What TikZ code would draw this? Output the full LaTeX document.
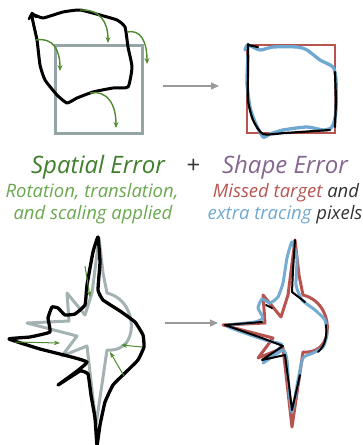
\documentclass[tikz,border=0pt]{standalone}
\usepackage{fontspec}
\setmainfont{Open Sans}
\usetikzlibrary{arrows.meta}
\definecolor{sqgrey}{HTML}{95A5A6}
\definecolor{arrgrey}{HTML}{999999}
\definecolor{dgreen}{HTML}{3F7F2A}
\definecolor{lgreen}{HTML}{6AA84F}
\definecolor{agreen}{HTML}{4E8A2E}
\definecolor{mauve}{HTML}{84668F}
\definecolor{tred}{HTML}{B85450}
\definecolor{tblue}{HTML}{6FA8D0}
\definecolor{txtdark}{HTML}{333333}
\tikzset{
  sketch/.style={black, line width=3pt, line join=round, line cap=round},
  garrow/.style={agreen, line width=1.4pt, -{Stealth[length=6pt,width=5pt]}},
  gthin/.style={agreen, line width=1pt, -{Stealth[length=6pt,width=4.5pt]}},
  stepar/.style={arrgrey, line width=1.2pt, -{Triangle[length=8pt,width=7pt]}},
  target/.style={line width=3pt, line join=round},
  bluetrace/.style={tblue, line width=3.3pt, line cap=round, line join=round},
}
\begin{document}
\begin{tikzpicture}[x=1pt,y=-1pt]
\useasboundingbox (0,0) rectangle (363,445);

% ---------- top left ----------
\draw[sqgrey, line width=3pt] (55,45) rectangle (142,133);
\draw[sketch] plot[smooth cycle, tension=0.3] coordinates {(32,15) (43,18) (63,12) (80,10) (100,15) (117,20) (125,27) (128,47) (132,67) (128,87) (113,88) (93,92) (77,98) (67,103) (57,95) (45,80) (40,65) (37,40)};
\draw[sketch, line width=2.5pt] (29,19) -- (32,13) -- (36,17);
\draw[garrow] (80,10) .. controls (100,9) and (108,22) .. (108,43);
\draw[garrow] (127,32) .. controls (141,29) and (147,42) .. (147,64);
\draw[garrow] (36,40) .. controls (53,37) and (60,50) .. (60,71);
\draw[garrow] (90,93) .. controls (108,90) and (116,105) .. (116,128);

% arrow top
\coordinate (a1s) at (163,86);
\coordinate (a1e) at (219,86);
\draw[stepar] (a1s) -- (a1e);

% ---------- top right ----------
\draw[tred, line width=2.7pt] (247,45) rectangle (335,133);
\draw[bluetrace] plot[smooth, tension=0.4] coordinates {(245,50) (248,45) (260,50) (273,47) (297,47) (307,50) (320,60) (333,67) (336,80) (336,110) (334,122) (331,128) (323,130) (307,127) (283,130) (270,134) (263,137) (255,122) (250,107) (247,83) (248,55)};
\draw[sketch, line width=2.2pt] plot[smooth, tension=0.4] coordinates {(248,44) (248,70) (248,100) (253,120) (263,134) (285,133) (300,132) (330,130)};
\draw[sketch, line width=2.2pt] (248,45) -- (258,47);
\draw[sketch, line width=2.2pt] (335,72) -- (336,100) -- (335,127);

% ---------- texts ----------
\node[anchor=base, font=\fontsize{24}{28}\selectfont\itshape, text=dgreen, inner sep=0] (t1) at (98,173) {Spatial Error};
\node[anchor=base, font=\fontsize{24}{28}\selectfont\itshape, text=txtdark, inner sep=0] (tp) at (193,173) {+};
\node[anchor=base, font=\fontsize{24}{28}\selectfont\itshape, text=mauve, inner sep=0] (t2) at (285,173) {Shape Error};
\node[anchor=base, font=\fontsize{18.5}{22}\selectfont\itshape, text=lgreen, inner sep=0] (s1) at (92,197) {Rotation, translation,};
\node[anchor=base, font=\fontsize{18.5}{22}\selectfont\itshape, text=lgreen, inner sep=0] (s2) at (93,219) {and scaling applied};
\node[anchor=base, font=\fontsize{18.5}{22}\selectfont\itshape, inner sep=0] (s3) at (286,197) {\textcolor{tred}{Missed target} \textcolor{txtdark}{and}};
\node[anchor=base, font=\fontsize{18.5}{22}\selectfont\itshape, inner sep=0] (s4) at (285,219) {\textcolor{tblue}{extra tracing} \textcolor{txtdark}{pixels}};

% ---------- bottom left ----------
\begin{scope}[shift={(97,333)}]
\draw[sqgrey!85, target] (2,-95) -- (6,-60) -- (10,-40) .. controls (30,-35) and (36,-15) .. (34,-2) .. controls (32,12) and (22,18) .. (10,17) -- (-1,92) -- (-10,13) -- (-35,23) -- (-20,3) -- (-70,-10) -- (-28,-12) -- (-30,-40) -- (-12,-18) -- (-5,-40) -- cycle;
\end{scope}
\draw[sketch, line width=3.3pt] plot[smooth cycle, tension=0.2] coordinates {(98,237) (100,262) (98,290) (103,300) (120,311) (135,322) (143,335) (144,347) (138,360) (125,373) (113,385) (105,402) (100,425) (97,445) (95,418) (91,395) (88,374) (80,371) (58,385) (87,362) (40,349) (9,339) (30,337) (50,332) (48,318) (52,307) (58,308) (65,315) (75,314) (85,305) (87,285) (93,252)};
\draw[gthin] (15,342) -- (60,343);
\draw[gthin] (85,266) -- (90,297);
\draw[gthin] (142,347) -- (121,345);
\draw[gthin] (124,376) -- (110,352);

% arrow bottom
\coordinate (a2s) at (165,323);
\coordinate (a2e) at (218,323);
\draw[stepar] (a2s) -- (a2e);

% ---------- bottom right ----------
\begin{scope}[shift={(293,335)}]
\draw[tred, target] (2,-95) -- (6,-60) -- (10,-40) .. controls (30,-35) and (36,-15) .. (34,-2) .. controls (32,12) and (22,18) .. (10,17) -- (-1,92) -- (-10,13) -- (-35,23) -- (-20,3) -- (-70,-10) -- (-28,-12) -- (-30,-40) -- (-12,-18) -- (-5,-40) -- cycle;
\end{scope}
\draw[bluetrace, line width=3pt, opacity=0.95] plot[smooth cycle, tension=0.3] coordinates {(292,242) (297,258) (296,285) (302,300) (315,310) (325,320) (327,335) (323,347) (313,353) (303,358) (298,380) (292,412) (289,390) (287,360) (283,350) (263,363) (282,345) (265,340) (227,326) (255,322) (263,318) (258,308) (262,299) (270,303) (278,297) (283,283) (287,258)};
\draw[sketch, line width=2pt] (295,240) -- (293,270) -- (292,292) -- (305,302);
\draw[sketch, line width=2pt] (318,352) .. controls (326,345) and (327,335) .. (326,325);
\draw[sketch, line width=2pt] (300,375) -- (292,410) -- (289,385) -- (285,355) -- (262,360) -- (283,346) -- (262,338) -- (225,325) -- (262,322);
\draw[sketch, line width=2pt] (266,305) -- (272,308);
\end{tikzpicture}
\end{document}
